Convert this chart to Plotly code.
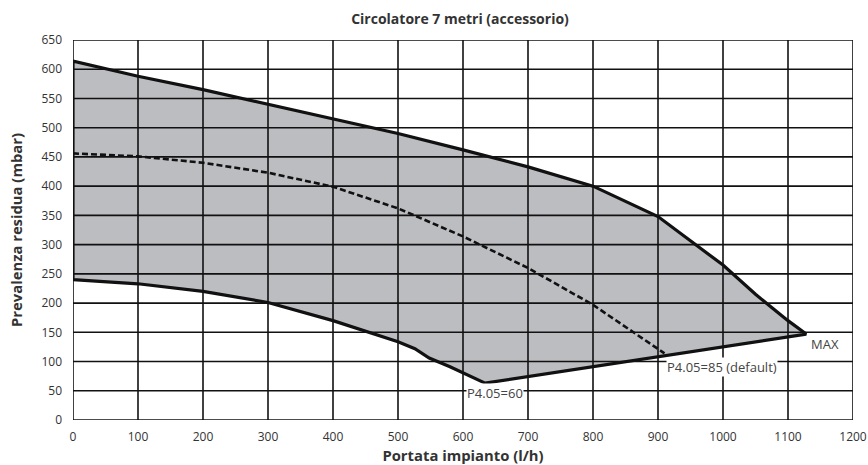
import plotly.graph_objects as go

# ---- data ----
upper_x = [0, 100, 200, 300, 400, 500, 600, 700, 800, 900, 1000, 1050, 1100, 1128]
upper_y = [614, 588, 565, 540, 515, 490, 462, 433, 400, 348, 265, 215, 170, 147]

lower_x = [0, 100, 200, 300, 400, 500, 526, 548, 580, 634]
lower_y = [240, 233, 220, 201, 170, 134, 122, 106, 91, 63]

default_x = [0, 100, 200, 300, 400, 500, 600, 700, 800, 910]
default_y = [456, 451, 440, 423, 399, 362, 314, 260, 197, 114]

x_ticks = list(range(0, 1201, 100))
y_ticks = list(range(0, 651, 50))

labels = [
    ("P4.05=60", 649, 46, "center"),
    ("P4.05=85 (default)", 912, 91, "left"),
    ("MAX", 1134, 130, "left"),
]

FONT = "Open Sans"
W, H = 868, 465

fig = go.Figure()

poly_x = upper_x + lower_x[::-1]
poly_y = upper_y + lower_y[::-1]
fig.add_trace(go.Scatter(x=poly_x + [poly_x[0]], y=poly_y + [poly_y[0]],
                         mode="lines", fill="toself", fillcolor="#bcbdc1",
                         line=dict(width=0), hoverinfo="skip", showlegend=False))

for xv in x_ticks:
    fig.add_shape(type="line", xref="x", yref="y", x0=xv, x1=xv, y0=y_ticks[0], y1=y_ticks[-1],
                  line=dict(color="#111", width=1.6), layer="above")
for yv in y_ticks:
    fig.add_shape(type="line", xref="x", yref="y", x0=x_ticks[0], x1=x_ticks[-1], y0=yv, y1=yv,
                  line=dict(color="#111", width=1.6), layer="above")

fig.add_trace(go.Scatter(x=poly_x + [poly_x[0]], y=poly_y + [poly_y[0]], mode="lines",
                         line=dict(color="#111", width=3.2), showlegend=False, hoverinfo="skip"))
fig.add_trace(go.Scatter(x=default_x, y=default_y, mode="lines",
                         line=dict(color="#111", width=2.6, dash="6px,3px"),
                         showlegend=False, hoverinfo="skip"))

for txt, xv, yv, anc in labels:
    fig.add_annotation(x=xv, y=yv, text=txt, showarrow=False, xanchor=anc, yanchor="middle",
                       font=dict(family=FONT, size=13, color="#444"),
                       bgcolor="white", borderpad=0)

fig.update_layout(
    width=W, height=H,
    margin=dict(l=73, r=15, t=40, b=45),
    paper_bgcolor="white", plot_bgcolor="white",
    title=dict(text="<b>Circolatore 7 metri (accessorio)</b>", x=460 / W, xanchor="center",
               y=1 - 19 / H, yanchor="middle",
               font=dict(family=FONT, size=14, color="#333")),
    font=dict(family=FONT, color="#333"),
)
fig.update_xaxes(range=[0, 1200], tickvals=x_ticks, showgrid=False, zeroline=False,
                 showline=False, ticks="", ticklabelstandoff=8, automargin=False,
                 tickfont=dict(size=12, color="#333"),
                 title=dict(text="<b>Portata impianto (l/h)</b>", standoff=2,
                            font=dict(family=FONT, size=14.8, color="#333")))
fig.update_yaxes(range=[0, 650], tickvals=y_ticks, showgrid=False, zeroline=False,
                 showline=False, ticks="", ticklabelstandoff=10, automargin=False,
                 tickfont=dict(size=12, color="#333"),
                 title=dict(text="<b>Prevalenza residua (mbar)</b>", standoff=15,
                            font=dict(family=FONT, size=14.8, color="#333")))

fig.write_html("out.html", config={"displayModeBar": False},
               post_script="document.body.style.margin='0px';document.body.style.overflow='hidden';")
